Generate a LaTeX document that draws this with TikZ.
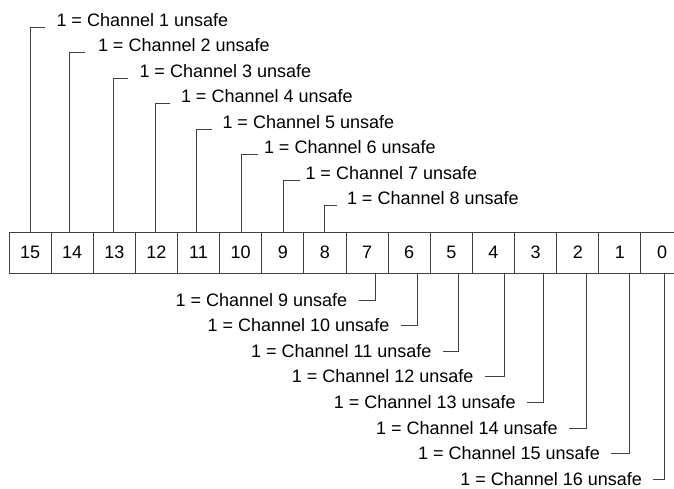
\documentclass[tikz,border=0pt]{standalone}
\usepackage{fontspec}
\setmainfont{Liberation Sans}
\begin{document}
\begin{tikzpicture}[x=1pt,y=-1pt,line width=1pt,
  cell/.style={draw=black!75,minimum width=42.13pt,minimum height=41pt,inner sep=0pt,outer sep=0pt,font=\fontsize{18}{20}\selectfont},
  lab/.style={inner sep=0pt,font=\fontsize{18}{20}\selectfont},
  leader/.style={draw=black!75}]
\useasboundingbox (0,0) rectangle (674,488);
\foreach \k in {0,...,15} {
  \pgfmathsetmacro\cx{9+42.13*(15-\k)+21.065}
  \node[cell] (c\k) at (\cx,252.5) {\k};
}
% top labels: channels 1..8, bits 15..8
\foreach \i/\lx/\te in {1/30/45,2/69/85,3/113/128,4/155/170,5/196/212,6/241/258,7/283/300,8/324/337} {
  \pgfmathsetmacro\by{26+25.5*(\i-1)}
  \pgfmathsetmacro\tx{56+41.5*(\i-1)}
  \pgfmathtruncatemacro\b{16-\i}
  \node[lab,anchor=base west] (t\i) at (\tx,\by) {1 = Channel \i\ unsafe};
  \coordinate (e\i) at (\te,\by+1);
  \coordinate (k\i) at (\lx,\by+1);
  \draw[leader] (e\i) -- (k\i) -- (k\i |- c\b.north);
}
% bottom labels: channels 9..16, bits 7..0
\foreach \j/\lx in {9/375,10/417,11/458,12/504,13/543,14/586,15/629,16/664} {
  \pgfmathsetmacro\by{306+25.6*(\j-9)}
  \pgfmathsetmacro\tx{347.7+42.1*(\j-9)}
  \pgfmathtruncatemacro\b{16-\j}
  \node[lab,anchor=base east] (t\j) at (\tx,\by) {1 = Channel \j\ unsafe};
  \coordinate (e\j) at (\tx+11,\by-6);
  \coordinate (k\j) at (\lx,\by-6);
  \draw[leader] (e\j) -- (k\j) -- (k\j |- c\b.south);
}
\end{tikzpicture}
\end{document}
